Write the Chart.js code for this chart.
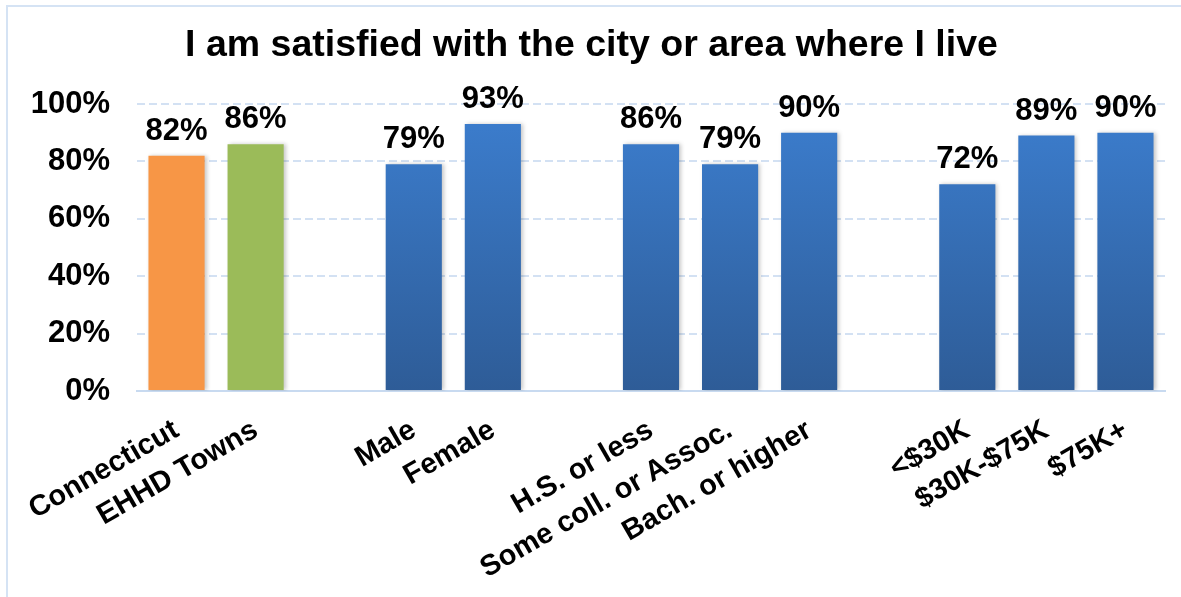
<!DOCTYPE html>
<html>
<head>
<meta charset="utf-8">
<script src="https://cdn.jsdelivr.net/npm/chart.js@4"></script>
<style>
  html, body { margin: 0; padding: 0; background: #fff; }
  #wrap { position: relative; width: 1181px; height: 597px; overflow: hidden; }
</style>
</head>
<body>
<div id="wrap"><canvas id="chart" width="1181" height="597"></canvas></div>
<script>
// chart data
const categories = ['Connecticut', 'EHHD Towns', '', 'Male', 'Female', '',
    'H.S. or less', 'Some coll. or Assoc.', 'Bach. or higher', '',
    '<$30K', '$30K-$75K', '$75K+'];
const satisfied = [82, 86, null, 79, 93, null, 86, 79, 90, null, 72, 89, 90];
const yTicks = [0, 20, 40, 60, 80, 100];
const chartTitle = 'I am satisfied with the city or area where I live';

const FONT = "'Liberation Sans', Arial, sans-serif";

function barColor(ctx) {
    const i = ctx.dataIndex;
    if (i === 0) return '#F79646';
    if (i === 1) return '#9BBB59';
    const area = ctx.chart.chartArea;
    if (!area) return '#3a78c6';
    const g = ctx.chart.ctx.createLinearGradient(0, area.top, 0, area.bottom);
    g.addColorStop(0, '#3c7ecf');
    g.addColorStop(1, '#2e5c97');
    return g;
}

// frame lines, bar shadow and value labels
const extras = {
    id: 'extras',
    beforeDraw(chart) {
        const c = chart.ctx;
        c.save();
        c.strokeStyle = '#d5e3f4';
        c.lineWidth = 2;
        c.beginPath();
        c.moveTo(7, 597);
        c.lineTo(7, 6);
        c.lineTo(1181, 6);
        c.stroke();
        c.restore();
    },
    beforeDatasetsDraw(chart) {
        const c = chart.ctx;
        c.save();
        c.shadowColor = 'rgba(0,0,0,0.22)';
        c.shadowBlur = 4;
        c.shadowOffsetX = 2;
        c.shadowOffsetY = 0;
    },
    afterDatasetsDraw(chart) {
        const c = chart.ctx;
        c.restore();
        const meta = chart.getDatasetMeta(0);
        c.save();
        c.font = 'bold 31px ' + FONT;
        c.fillStyle = '#000';
        c.textAlign = 'center';
        c.textBaseline = 'alphabetic';
        meta.data.forEach((bar, i) => {
            const v = satisfied[i];
            if (v === null) return;
            c.fillText(v + '%', bar.x, bar.y - 16);
        });
        c.restore();
    }
};

new Chart(document.getElementById('chart').getContext('2d'), {
    type: 'bar',
    data: {
        labels: categories,
        datasets: [{
            data: satisfied,
            backgroundColor: barColor,
            borderWidth: 0,
            barPercentage: 1,
            categoryPercentage: 0.71
        }]
    },
    options: {
        responsive: false,
        animation: false,
        layout: { padding: { left: 18, right: 16, top: 0, bottom: 0 } },
        plugins: {
            legend: { display: false },
            tooltip: { enabled: false },
            title: {
                display: true,
                text: chartTitle,
                color: '#000',
                font: { family: FONT, size: 37.5, weight: 'bold' },
                padding: { top: 23, bottom: 36 }
            }
        },
        scales: {
            x: {
                grid: { display: false },
                border: { color: '#c8daf0', width: 2 },
                ticks: {
                    color: '#000',
                    font: { family: FONT, size: 29, weight: 'bold' },
                    autoSkip: false,
                    minRotation: 30,
                    maxRotation: 30,
                    padding: 14
                },
                afterFit(scale) { scale.height = 206; }
            },
            y: {
                min: 0,
                max: 100,
                afterBuildTicks(scale) { scale.ticks = yTicks.map(v => ({ value: v })); },
                grid: { color: '#d3e1f3', lineWidth: 2, drawTicks: false },
                border: { display: false, dash: [8, 4] },
                ticks: {
                    color: '#000',
                    font: { family: FONT, size: 31, weight: 'bold' },
                    padding: 27,
                    callback: v => v + '%'
                },
                afterFit(scale) { scale.width = 119; }
            }
        }
    },
    plugins: [extras]
});
</script>
</body>
</html>
